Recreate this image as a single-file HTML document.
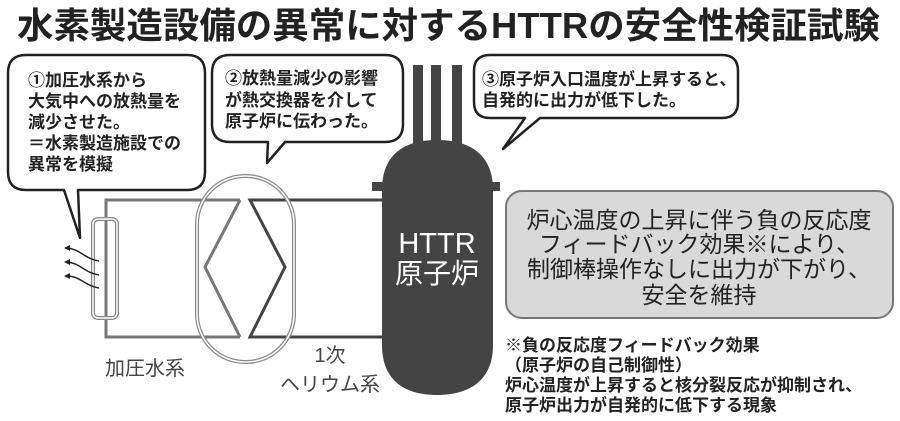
<!DOCTYPE html>
<html><head><meta charset="utf-8"><style>
html,body{margin:0;padding:0;background:#fff;}
svg{display:block;}
text{font-family:"Liberation Sans","Noto Sans CJK JP",sans-serif;}
</style></head><body>
<svg width="900" height="421" viewBox="0 0 900 421" xmlns="http://www.w3.org/2000/svg">
<text x="17" y="38" font-size="36" font-weight="bold" textLength="863" lengthAdjust="spacingAndGlyphs" fill="#222">水素製造設備の異常に対するHTTRの安全性検証試験</text>

<polyline points="240,200 106,200 106,337 240,337" fill="none" stroke="#777" stroke-width="3"/>
<polyline points="240,200 205,267 240,337" fill="none" stroke="#777" stroke-width="3"/>
<polyline points="384,200 250,200 285,267 250,337 384,337" fill="none" stroke="#444" stroke-width="3"/>
<rect x="197" y="176" width="97" height="186" rx="48" fill="none" stroke="#888" stroke-width="4"/>
<rect x="197" y="176" width="97" height="186" rx="48" fill="none" stroke="#fff" stroke-width="1.5"/>
<rect x="93" y="219" width="24" height="99" rx="5" fill="none" stroke="#888" stroke-width="4"/>
<rect x="93" y="219" width="24" height="99" rx="5" fill="none" stroke="#fff" stroke-width="1.5"/>
<g fill="none" stroke="#222" stroke-width="1.5">
<path d="M99,261 C85,259 80,249 67,248"/><path d="M99,275 C85,273 80,263 67,262"/><path d="M99,288 C85,286 80,276 67,276"/>
</g>
<g fill="#222"><path d="M64,248 l6,-3 l0,6z"/><path d="M64,262 l6,-3 l0,6z"/><path d="M64,276 l6,-3 l0,6z"/></g>

<g fill="#444">
<rect x="413" y="65" width="10" height="80"/><rect x="431" y="65" width="10" height="80"/><rect x="452" y="65" width="10" height="80"/>
<path d="M382,190 C382,150 410,140 437,140 C464,140 493,150 493,190 L493,345 C493,380 470,395 437,395 C404,395 382,380 382,345 Z"/>
<rect x="372" y="182" width="128" height="9"/>
</g>
<text x="437" y="253" font-size="29" fill="#fff" text-anchor="middle">HTTR</text>
<text x="437" y="283" font-size="28" fill="#fff" text-anchor="middle">原子炉</text>

<g fill="#fff" stroke="#222" stroke-width="2.5" stroke-linejoin="round">
<path d="M26,55 H187 Q205,55 205,73 V172 Q205,190 187,190 H78 L80,238 L64,190 H26 Q8,190 8,172 V73 Q8,55 26,55 Z"/>
<path d="M230,55 H385 Q403,55 403,73 V124 Q403,142 385,142 H285 L267,163 L268,142 H230 Q212,142 212,124 V73 Q212,55 230,55 Z"/>
<path d="M490,55 H722 Q738,55 738,71 V102 Q738,118 722,118 H540 L503,149 L525,118 H490 Q474,118 474,102 V71 Q474,55 490,55 Z"/>
</g>
<g font-size="17" font-weight="bold" fill="#222">
<text x="28" y="86">①加圧水系から</text>
<text x="28" y="107">大気中への放熱量を</text>
<text x="28" y="128">減少させた。</text>
<text x="28" y="149">＝水素製造施設での</text>
<text x="28" y="170">異常を模擬</text>
<text x="225" y="84">②放熱量減少の影響</text>
<text x="225" y="106">が熱交換器を介して</text>
<text x="225" y="127">原子炉に伝わった。</text>
<text x="482" y="85">③原子炉入口温度が上昇すると、</text>
<text x="482" y="106">自発的に出力が低下した。</text>
</g>

<rect x="506" y="191" width="387" height="127" rx="16" fill="#d9d9d9" stroke="#777" stroke-width="2"/>
<g font-size="23" fill="#222" text-anchor="middle">
<text x="699" y="228">炉心温度の上昇に伴う負の反応度</text>
<text x="699" y="252">フィードバック効果※により、</text>
<text x="699" y="277">制御棒操作なしに出力が下がり、</text>
<text x="699" y="303">安全を維持</text>
</g>
<g font-size="17" font-weight="bold" fill="#222">
<text x="505" y="351">※負の反応度フィードバック効果</text>
<text x="505" y="371">（原子炉の自己制御性）</text>
<text x="505" y="391">炉心温度が上昇すると核分裂反応が抑制され、</text>
<text x="505" y="411">原子炉出力が自発的に低下する現象</text>
</g>

<g font-size="20" fill="#444">
<text x="105" y="375">加圧水系</text>
<text x="330" y="362" text-anchor="middle">1次</text>
<text x="330" y="391" text-anchor="middle">ヘリウム系</text>
</g>
</svg>
</body></html>
